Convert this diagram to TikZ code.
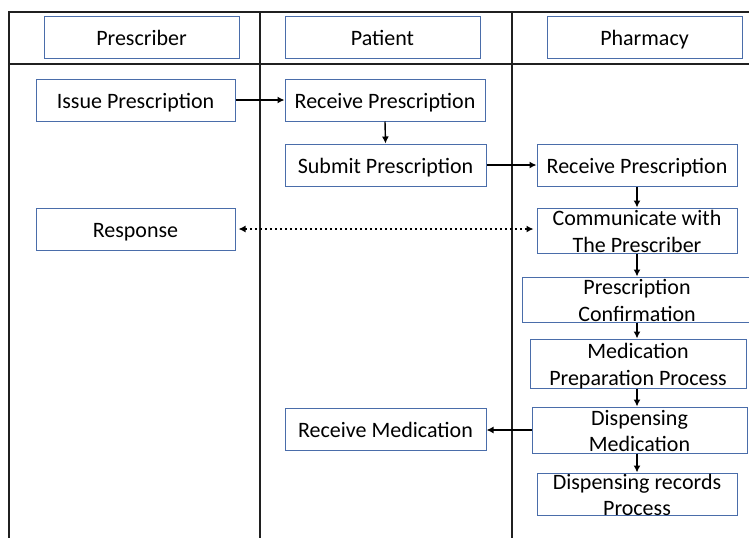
\documentclass[tikz,border=0pt]{standalone}
\usepackage{fontspec}
\setmainfont{Carlito}
\usetikzlibrary{arrows.meta}
\definecolor{boxblue}{HTML}{4A6DAA}
\definecolor{frame}{HTML}{202020}
\tikzset{
  stepbox/.style={draw=boxblue, line width=1pt, fill=white, inner sep=0pt},
  steptext/.style={inner sep=0pt, align=center, font=\fontsize{22}{26.5}\selectfont},
  flow/.style={-{Latex[length=7pt,width=7pt]}, line width=1.4pt, black},
  both/.style={{Latex[length=7pt,width=7pt]}-{Latex[length=7pt,width=7pt]}, line width=1.5pt, black, dash pattern=on 2.5pt off 2.5pt},
  lane/.style={line width=1.8pt, frame}
}
\newcommand{\bx}[6]{\node[stepbox, minimum width=#4-#2 pt, minimum height=#5-#3 pt] (#1) at ({(#2+#4)/2},{(#3+#5)/2}) {};
  \node[steptext] (#1-t) at ([yshift=-3pt]#1.center) {\strut #6\strut};}
\begin{document}
\begin{tikzpicture}[x=1pt,y=-1pt]
\useasboundingbox (0,0) rectangle (749,538);
% frame
\draw[lane] (749,12) -- (9,12) -- (9,538);
\draw[lane] (9,64) -- (749,64);
\draw[lane] (260,12) -- (260,538);
\draw[lane] (512,12) -- (512,538);
% headers
\bx{h1}{44}{16}{239}{58}{Prescriber}
\bx{h2}{285}{16}{480}{58}{Patient}
\bx{h3}{547}{16}{742}{58}{Pharmacy}
% boxes
\bx{issue}{36}{79}{235}{121}{Issue Prescription}
\bx{recv}{285}{79}{485}{121}{Receive Prescription}
\bx{submit}{285}{144}{486}{186}{Submit Prescription}
\bx{precv}{537}{144}{737}{186}{Receive Prescription}
\bx{resp}{36}{208}{235}{250}{Response}
\bx{comm}{537}{208}{737}{253}{Communicate with\\The Prescriber}
\bx{conf}{522}{277}{752}{322}{Prescription\\Confirmation}
\bx{prep}{530}{339}{746}{388}{Medication\\Preparation Process}
\bx{disp}{532}{407}{747}{453}{Dispensing\\Medication}
\bx{rec}{537}{473}{737}{515}{Dispensing records\\Process}
\bx{rmed}{285}{408}{486}{450}{Receive Medication}
% connectors
\draw[flow] (issue.east) -- (recv.west);
\draw[flow] (recv.south) -- (submit.north);
\draw[flow] (submit.east) -- (precv.west);
\draw[both] ([xshift=3pt]resp.east) -- ([xshift=-3pt]comm.west |- resp.east);
\draw[flow] (precv.south) -- (comm.north);
\draw[flow] (comm.south) -- (comm.south |- conf.north);
\draw[flow] (comm.south |- conf.south) -- (comm.south |- prep.north);
\draw[flow] (comm.south |- prep.south) -- (comm.south |- disp.north);
\draw[flow] (comm.south |- disp.south) -- (comm.south |- rec.north);
\draw[flow] (disp.west) -- (rmed.east |- disp.west);
\end{tikzpicture}
\end{document}
